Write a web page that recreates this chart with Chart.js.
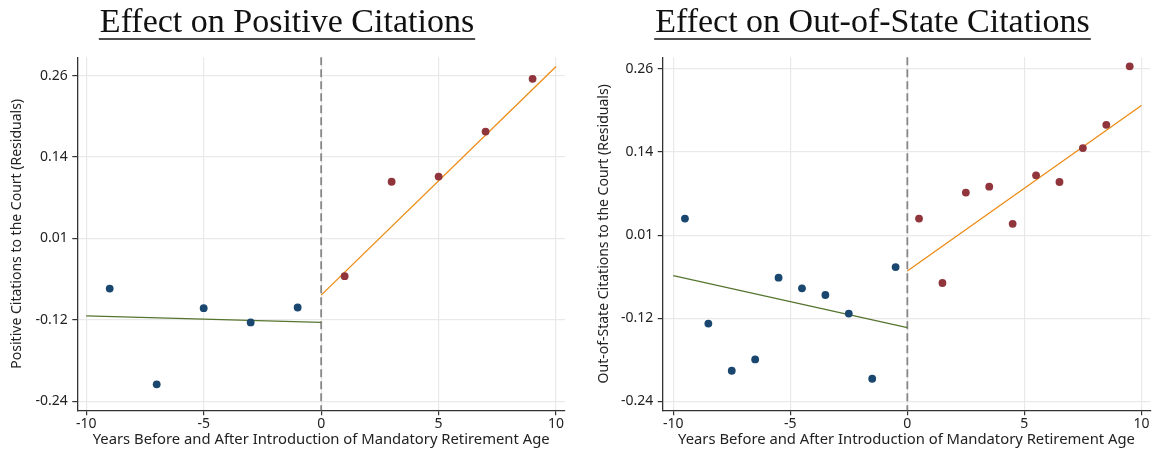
<!DOCTYPE html>
<html>
<head>
<meta charset="utf-8">
<script src="https://cdn.jsdelivr.net/npm/chart.js@4"></script>
<style>
  html, body { margin: 0; padding: 0; background: #fff; }
  .panel { position: absolute; top: 0; width: 578px; height: 451px; }
  #leftPanel { left: 0; }
  #rightPanel { left: 578px; }
</style>
</head>
<body>
<div class="panel" id="leftPanel"><canvas id="positiveChart" width="578" height="451"></canvas></div>
<div class="panel" id="rightPanel"><canvas id="outOfStateChart" width="578" height="451"></canvas></div>
<script>
(function(){
  'use strict';

  // axes
  const xTicks = [-10, -5, 0, 5, 10];
  const yTicks = [-0.24, -0.115, 0.01, 0.135, 0.26];
  const yTickLabels = ['-0.24', '-0.12', '0.01', '0.14', '0.26'];
  const cutoff = [0];

  // left panel: positive citations
  const posBeforeX = [-9, -7, -5, -3, -1];
  const posBeforeY = [-0.067, -0.214, -0.097, -0.119, -0.096];
  const posAfterX = [1, 3, 5, 7, 9];
  const posAfterY = [-0.048, 0.097, 0.105, 0.174, 0.255];
  const posFitBeforeX = [-10, 0];
  const posFitBeforeY = [-0.109, -0.119];
  const posFitAfterX = [0, 10];
  const posFitAfterY = [-0.077, 0.274];

  // right panel: out-of-state citations
  const oosBeforeX = [-9.5, -8.5, -7.5, -6.5, -5.5, -4.5, -3.5, -2.5, -1.5, -0.5];
  const oosBeforeY = [0.035, -0.123, -0.194, -0.177, -0.054, -0.070, -0.080, -0.108, -0.206, -0.038];
  const oosAfterX = [0.5, 1.5, 2.5, 3.5, 4.5, 5.5, 6.5, 7.5, 8.5, 9.5];
  const oosAfterY = [0.035, -0.062, 0.074, 0.083, 0.027, 0.100, 0.090, 0.141, 0.176, 0.264];
  const oosFitBeforeX = [-10, 0];
  const oosFitBeforeY = [-0.051, -0.129];
  const oosFitAfterX = [0, 10];
  const oosFitAfterY = [-0.044, 0.205];

  const xTitle = 'Years Before and After Introduction of Mandatory Retirement Age';

  const NAVY = '#1a476f', MAROON = '#90353b', GREEN = '#55752f', ORANGE = '#ec8b14';

  const pairs = (xs, ys) => xs.map((x, i) => ({x, y: ys[i]}));

  Chart.defaults.font.family = '"Noto Sans", sans-serif';
  Chart.defaults.color = '#222';

  const headline = {
    id: 'headline',
    afterDraw(chart, args, o){
      const ctx = chart.ctx;
      ctx.save();
      ctx.font = o.font;
      ctx.fillStyle = '#111';
      ctx.textAlign = 'center';
      ctx.textBaseline = 'alphabetic';
      ctx.fillText(o.text, o.x, o.baseline);
      const w = ctx.measureText(o.text).width;
      ctx.strokeStyle = '#111'; ctx.lineWidth = 1.3;
      ctx.beginPath(); ctx.moveTo(o.x - w/2 - 1, o.underline); ctx.lineTo(o.x + w/2 + 1, o.underline); ctx.stroke();
      ctx.restore();
    }
  };

  const cutoffLine = {
    id: 'cutoffLine',
    beforeDatasetsDraw(chart, args, o){
      const {ctx, chartArea:{top, bottom}, scales:{x}} = chart;
      ctx.save();
      ctx.strokeStyle = o.color; ctx.lineWidth = o.width; ctx.setLineDash(o.dash);
      o.values.forEach(v => { const xp = x.getPixelForValue(v); ctx.beginPath(); ctx.moveTo(xp, top); ctx.lineTo(xp, bottom); ctx.stroke(); });
      ctx.restore();
    }
  };

  function makeChart(canvas, p){
    const grid = { color: '#e9e9e9', lineWidth: 1.2, tickColor: '#333', tickLength: 5 };
    const border = { display: true, color: '#333', width: 1.3 };
    return new Chart(canvas, {
      type: 'scatter',
      data: { datasets: [
        { data: pairs(p.bx, p.by), backgroundColor: NAVY, borderWidth: 0, pointRadius: 3.9, order: 0 },
        { data: pairs(p.ax, p.ay), backgroundColor: MAROON, borderWidth: 0, pointRadius: 3.9, order: 0 },
        { type: 'line', data: pairs(p.fbx, p.fby), borderColor: GREEN, borderWidth: 1.3, pointRadius: 0, fill: false, order: 1 },
        { type: 'line', data: pairs(p.fax, p.fay), borderColor: ORANGE, borderWidth: 1.3, pointRadius: 0, fill: false, order: 1 }
      ] },
      options: {
        responsive: false,
        animation: false,
        devicePixelRatio: 1,
        layout: { padding: { top: 57.3, left: 0, right: p.padRight, bottom: 0 } },
        plugins: {
          legend: { display: false },
          tooltip: { enabled: false },
          headline: { text: p.title, x: p.titleX, baseline: 31.7, underline: 39, font: '34px "Liberation Serif", serif' },
          cutoffLine: { values: cutoff, color: '#888', width: 1.8, dash: [8, 4] }
        },
        scales: {
          x: {
            type: 'linear', min: p.xMin, max: p.xMax,
            grid, border,
            afterBuildTicks: s => { s.ticks = xTicks.map(v => ({value: v})); },
            afterFit: s => { s.height = 40.7; s.paddingLeft = 0; s.paddingRight = 0; },
            ticks: { font: { size: 14 }, padding: 0.5, color: '#222' },
            title: { display: true, text: xTitle, font: { size: 14.8 }, padding: { top: 0, bottom: 2.8 }, color: '#222' }
          },
          y: {
            type: 'linear', min: p.yMin, max: p.yMax,
            grid, border,
            afterBuildTicks: s => { s.ticks = yTicks.map(v => ({value: v})); },
            afterFit: s => { s.width = p.yWidth; },
            ticks: { font: { size: 14 }, padding: 4.5, color: '#222', callback: (v, i) => yTickLabels[i] },
            title: { display: true, text: p.yTitle, font: { size: 14 }, padding: { top: p.yTitlePad, bottom: 0 }, color: '#222' }
          }
        }
      },
      plugins: [headline, cutoffLine]
    });
  }

  makeChart(document.getElementById('positiveChart'), {
    title: 'Effect on Positive Citations', titleX: 287,
    yTitle: 'Positive Citations to the Court (Residuals)', yTitlePad: 9.1,
    bx: posBeforeX, by: posBeforeY, ax: posAfterX, ay: posAfterY,
    fbx: posFitBeforeX, fby: posFitBeforeY, fax: posFitAfterX, fay: posFitAfterY,
    xMin: -10.38, xMax: 10.38, yMin: -0.2538, yMax: 0.288,
    yWidth: 77.3, padRight: 13
  });

  makeChart(document.getElementById('outOfStateChart'), {
    title: 'Effect on Out-of-State Citations', titleX: 294.5,
    yTitle: 'Out-of-State Citations to the Court (Residuals)', yTitlePad: 17.3,
    bx: oosBeforeX, by: oosBeforeY, ax: oosAfterX, ay: oosAfterY,
    fbx: oosFitBeforeX, fby: oosFitBeforeY, fax: oosFitAfterX, fay: oosFitAfterY,
    xMin: -10.45, xMax: 10.38, yMin: -0.2535, yMax: 0.2776,
    yWidth: 84.7, padRight: 5.7
  });
})();
</script>
</body>
</html>
